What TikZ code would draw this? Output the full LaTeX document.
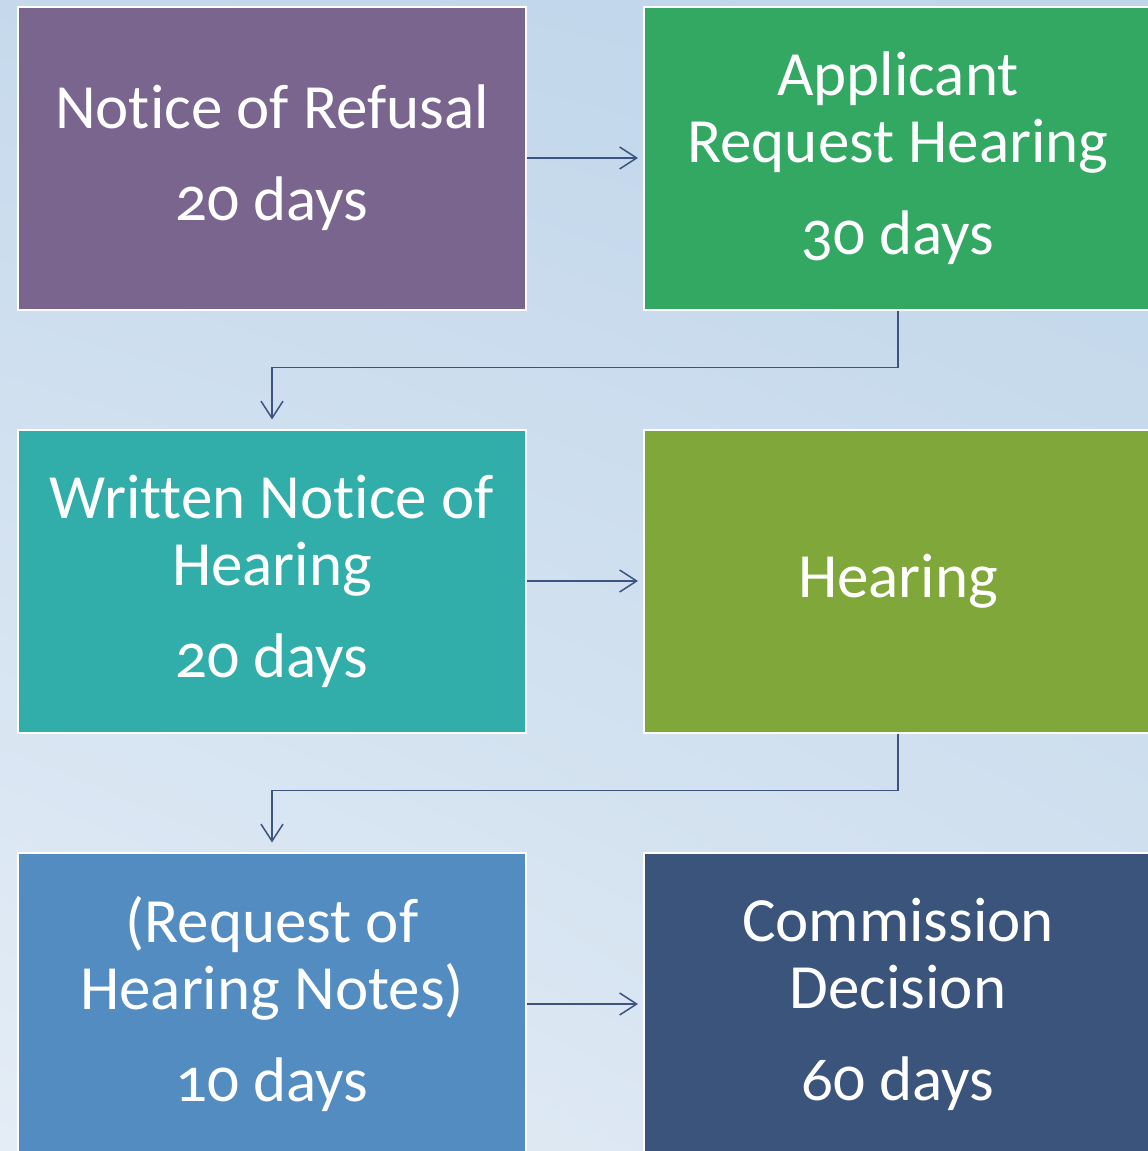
\documentclass[tikz,border=0pt]{standalone}
\usepackage{fontspec}
\setmainfont[Numbers=OldStyle,Ligatures=NoCommon]{Carlito}
\usetikzlibrary{
  	positioning,
  	arrows.meta,
  	shadings,
  	calc
  }
\definecolor{refusalc}{HTML}{79658E}
\definecolor{requestc}{HTML}{33A863}
\definecolor{writtenc}{HTML}{31AEAA}
\definecolor{hearingc}{HTML}{7FA73A}
\definecolor{notesc}{HTML}{528CC0}
\definecolor{decisionc}{HTML}{3A547B}
\definecolor{linkc}{HTML}{3B5480}
\definecolor{bgul}{HTML}{C6D9EC}
\definecolor{bgur}{HTML}{BED5EA}
\definecolor{bgll}{HTML}{E4EDF6}
\definecolor{bglr}{HTML}{D6E3F0}
\tikzstyle{stage}=[rectangle,draw=white,line width=2pt,minimum width=508pt,minimum height=303pt,inner sep=0pt,text=white,align=center,font=\fontsize{63}{67}\selectfont]
\tikzstyle{link}=[draw=linkc,line width=1.5pt,-{Straight Barb[length=17pt,width=22pt,line width=1.5pt]}]

\begin{document}
\begin{tikzpicture}[x=1pt,y=-1pt]
\clip (0,0) rectangle (1148,1151);
\shade[upper left=bgul,upper right=bgur,lower left=bgll,lower right=bglr]
   (0,0) rectangle (1148,1151);
\node[stage,fill=refusalc] (refusal) at (272,158) {Notice of Refusal\\[25pt]20 days};
\node[stage,fill=requestc,right=116pt of refusal] (request) {Applicant\\Request Hearing\\[25pt]30 days};
\node[stage,fill=writtenc,below=118pt of refusal] (written) {Written Notice of\\Hearing\\[25pt]20 days};
\node[stage,fill=hearingc,right=116pt of written] (hearing) {Hearing};
\node[stage,fill=notesc,below=118pt of written] (notes) {(Request of\\Hearing Notes)\\[25pt]10 days};
\node[stage,fill=decisionc,right=116pt of notes] (decision) {Commission\\Decision\\[25pt]60 days};
% across
\draw[link,shorten >=5pt] (refusal) -- (request);
\draw[link,shorten >=5pt] (written) -- (hearing);
\draw[link,shorten >=5pt] (notes) -- (decision);
% down and back
\draw[link,shorten >=9pt] (request.south) -- ++(0,57) -| (written.north);
\draw[link,shorten >=9pt] (hearing.south) -- ++(0,57) -| (notes.north);
\end{tikzpicture}
\end{document}
